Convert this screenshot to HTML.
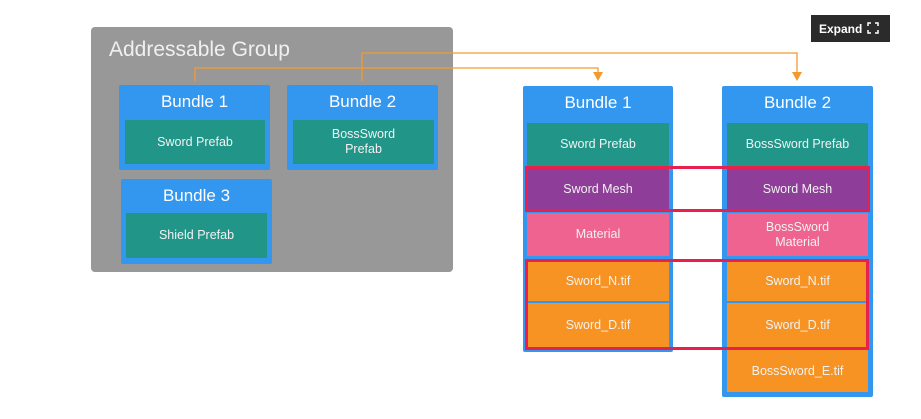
<!DOCTYPE html>
<html><head><meta charset="utf-8"><style>
body{margin:0;width:921px;height:419px;background:#fff;position:relative;overflow:hidden;font-family:"Liberation Sans",sans-serif;}
.a{position:absolute;box-sizing:border-box;}
.g{background:#989898;border-radius:4px;}
.b{background:#3397ef;border-radius:2px;color:#fff;font-size:17px;text-align:center;}
.i{display:flex;align-items:center;justify-content:center;text-align:center;color:#f2f2f2;font-size:12.5px;line-height:15px;}
.t{background:#219688;}.p{background:#8e3d98;}.k{background:#ef6390;}.o{background:#f69322;}
.r{border:3px solid #e8204f;}
</style></head><body>
<div class="a g" style="left:91px;top:27px;width:362px;height:245px"></div>
<div class="a" style="left:109px;top:38px;color:#f0f0f0;font-size:21px">Addressable Group</div>
<div class="a b" style="left:119px;top:85px;width:151px;height:85px;padding-top:7px">Bundle 1</div>
<div class="a i t" style="left:125px;top:120px;width:140px;height:44px">Sword Prefab</div>
<div class="a b" style="left:287px;top:85px;width:151px;height:85px;padding-top:7px">Bundle 2</div>
<div class="a i t" style="left:293px;top:120px;width:141px;height:44px">BossSword<br>Prefab</div>
<div class="a b" style="left:121px;top:179px;width:151px;height:85px;padding-top:7px">Bundle 3</div>
<div class="a i t" style="left:126px;top:213px;width:141px;height:45px">Shield Prefab</div>

<div class="a b" style="left:523px;top:86px;width:150px;height:266px;padding-top:7px">Bundle 1</div>
<div class="a i t" style="left:527px;top:123px;width:142px;height:43px">Sword Prefab</div>
<div class="a i p" style="left:527px;top:169px;width:142px;height:40px">Sword Mesh</div>
<div class="a i k" style="left:527px;top:213px;width:142px;height:43px">Material</div>
<div class="a i o" style="left:527px;top:261px;width:142px;height:40px">Sword_N.tif</div>
<div class="a i o" style="left:527px;top:303px;width:142px;height:44px">Sword_D.tif</div>

<div class="a b" style="left:722px;top:86px;width:151px;height:311px;padding-top:7px">Bundle 2</div>
<div class="a i t" style="left:727px;top:123px;width:141px;height:43px">BossSword Prefab</div>
<div class="a i p" style="left:727px;top:169px;width:141px;height:40px">Sword Mesh</div>
<div class="a i k" style="left:727px;top:213px;width:141px;height:43px">BossSword<br>Material</div>
<div class="a i o" style="left:727px;top:261px;width:141px;height:40px">Sword_N.tif</div>
<div class="a i o" style="left:727px;top:303px;width:141px;height:44px">Sword_D.tif</div>
<div class="a i o" style="left:727px;top:350px;width:141px;height:42px">BossSword_E.tif</div>

<div class="a r" style="left:525px;top:166px;width:345px;height:46px"></div>
<div class="a r" style="left:525px;top:259px;width:344px;height:91px"></div>

<svg class="a" style="left:0;top:0" width="921" height="419">
<g fill="none" stroke="#f39a2e" stroke-width="1.3">
<polyline points="195,81 195,68 598,68 598,74"/>
<polyline points="362,81 362,53 797,53 797,74"/>
</g>
<g fill="#f39a2e"><polygon points="593,72 603,72 598,81"/><polygon points="792,72 802,72 797,81"/></g>
</svg>

<div class="a" style="left:811px;top:15px;width:79px;height:27px;background:#2b2b2b;color:#fff;font-size:12px;font-weight:bold;padding:7px 0 0 8px">Expand</div>
<svg class="a" style="left:867px;top:22px" width="12" height="12"><g stroke="#fff" stroke-width="1.5" fill="none"><path d="M1 4V1H4M8 1H11V4M11 8V11H8M4 11H1V8"/></g></svg>
</body></html>
